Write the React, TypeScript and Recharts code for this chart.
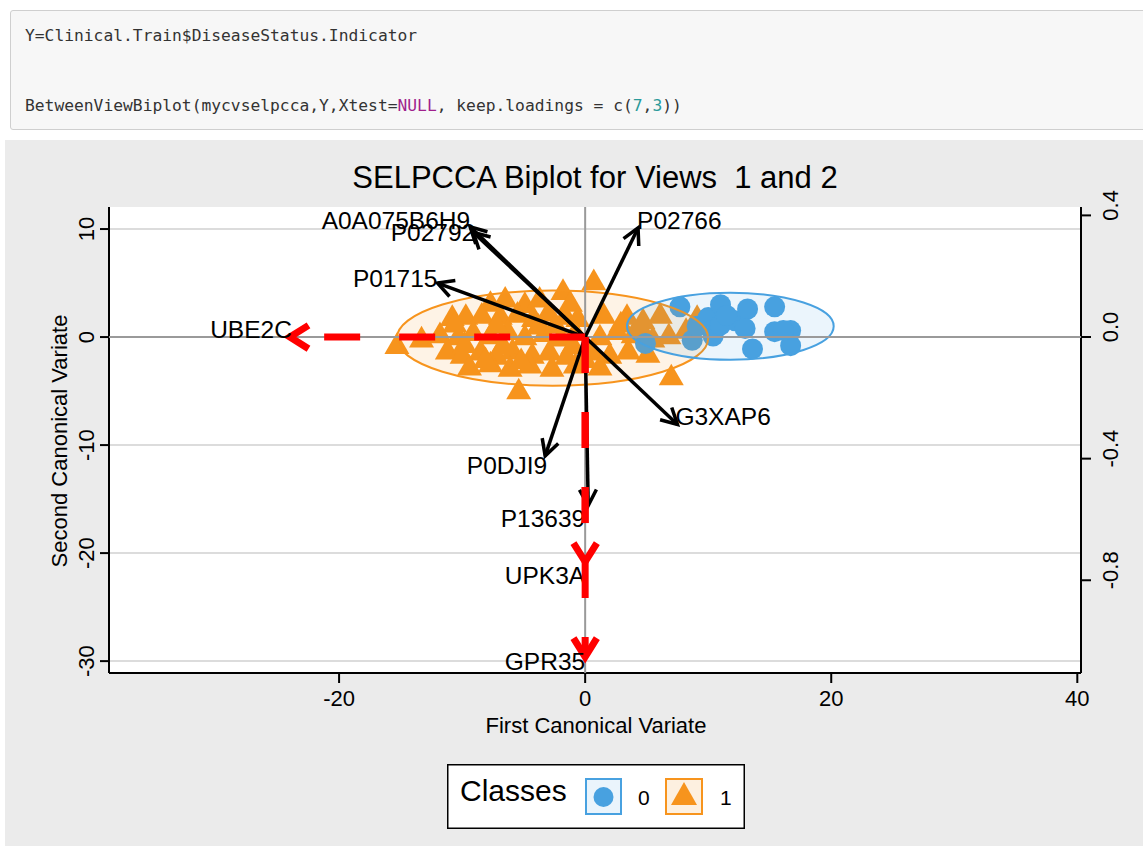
import React from 'react';
import { ScatterChart, Scatter, XAxis, YAxis, CartesianGrid, ReferenceLine, ReferenceArea } from 'recharts';

const font = '"Liberation Sans", Arial, Helvetica, sans-serif';
const mono = '"DejaVu Sans Mono", "Liberation Mono", monospace';

const ORANGE = '#f7941d';
const BLUE = '#48a1e0';

// axis ticks
const xTicks = [-20, 0, 20, 40];
const yTicks = [-30, -20, -10, 0, 10];
const loadingTicks = [-0.8, -0.4, 0, 0.4];

// class 0 (circles)
const class0Points = [
  { x: 4.9, y: -0.6 }, { x: 7.7, y: 2.8 }, { x: 8.7, y: -0.3 }, { x: 9.1, y: 1.0 },
  { x: 10.0, y: 1.8 }, { x: 10.4, y: 0.1 }, { x: 11.0, y: 3.0 }, { x: 11.0, y: 1.1 },
  { x: 12.2, y: 1.5 }, { x: 11.5, y: 2.0 }, { x: 13.2, y: 2.6 }, { x: 13.0, y: 0.8 },
  { x: 13.6, y: -1.1 }, { x: 15.4, y: 2.8 }, { x: 15.4, y: 0.5 }, { x: 16.7, y: 0.6 },
  { x: 16.7, y: -0.8 }, { x: 16.1, y: 0.6 },
];

// class 1 (triangles)
const class1Points = [
  { x: 0.7, y: 5.0 }, { x: -1.8, y: 4.1 }, { x: -4.9, y: 2.9 }, { x: -3.7, y: 3.4 },
  { x: -6.5, y: 3.4 }, { x: -7.7, y: 3.0 }, { x: -1.2, y: 3.0 },
  { x: -10.8, y: 1.7 }, { x: -9.7, y: 1.8 }, { x: -8.4, y: 1.9 }, { x: -6.9, y: 1.8 },
  { x: -5.5, y: 2.0 }, { x: -4.2, y: 1.6 }, { x: -3.0, y: 2.1 }, { x: -1.6, y: 1.8 },
  { x: -0.6, y: 1.6 }, { x: 1.5, y: 1.9 }, { x: 3.4, y: 1.8 }, { x: 4.7, y: 1.4 }, { x: 6.1, y: 1.9 },
  { x: -15.3, y: -0.9 }, { x: -13.3, y: -0.3 }, { x: -11.8, y: 0.1 }, { x: -10.3, y: -0.1 },
  { x: -9.1, y: 0.3 }, { x: -7.7, y: 0.0 }, { x: -6.3, y: 0.4 }, { x: -4.9, y: -0.1 },
  { x: -3.3, y: 0.2 }, { x: -2.0, y: -0.2 }, { x: -0.8, y: 0.3 }, { x: 1.2, y: -0.1 },
  { x: 2.6, y: 0.4 }, { x: 3.9, y: 0.1 }, { x: 5.5, y: -0.3 }, { x: 6.8, y: 0.0 },
  { x: 8.2, y: 0.5 }, { x: 9.1, y: 1.7 },
  { x: -11.2, y: -1.4 }, { x: -10.0, y: -1.8 }, { x: -8.5, y: -1.5 }, { x: -7.2, y: -1.9 },
  { x: -5.9, y: -1.4 }, { x: -4.3, y: -1.8 }, { x: -2.9, y: -1.5 }, { x: -1.5, y: -1.9 },
  { x: 0.6, y: -1.5 }, { x: 2.0, y: -1.8 }, { x: 3.5, y: -1.4 }, { x: 5.1, y: -1.7 },
  { x: -9.4, y: -2.9 }, { x: -7.7, y: -2.6 }, { x: -6.1, y: -3.0 }, { x: -4.5, y: -2.7 },
  { x: -2.7, y: -3.0 }, { x: -0.8, y: -2.7 }, { x: 1.2, y: -2.9 },
  { x: -5.4, y: -5.1 }, { x: 7.0, y: -3.8 },
  { x: -10.6, y: 1.1 }, { x: 2.9, y: 1.1 },
  { x: -7.2, y: 1.0 }, { x: -3.8, y: 0.9 }, { x: -1.0, y: -0.9 }, { x: -6.7, y: -0.9 },
  { x: -9.8, y: -0.8 }, { x: 4.6, y: 0.6 }, { x: -5.2, y: -2.3 }, { x: -8.1, y: -2.2 },
  { x: 0.0, y: -2.2 }, { x: -2.4, y: 1.0 },
];

// confidence ellipses (bounding boxes)
const ellipse0 = { x1: 3.4, x2: 20.2, y1: -2.1, y2: 4.1 };
const ellipse1 = { x1: -15.3, x2: 10.0, y1: -4.5, y2: 4.3 };

// loadings, view 1 (black) and view 2 (red)
const view1Loadings = [
  { name: 'A0A075B6H9', x: -9.35, y: 10.2 },
  { name: 'P02792', x: -9.1, y: 9.7 },
  { name: 'P02766', x: 4.3, y: 10.1 },
  { name: 'P01715', x: -12.0, y: 5.0 },
  { name: 'G3XAP6', x: 7.5, y: -8.1 },
  { name: 'P0DJI9', x: -3.25, y: -11.0 },
  { name: 'P13639', x: 0.25, y: -15.6 },
];
const view2Loadings = [
  { name: 'UBE2C', x: -24.0, y: 0 },
  { name: 'UPK3A', x: 0, y: -20.8 },
  { name: 'GPR35', x: 0, y: -29.6 },
];

const labelNudge: Record<string, { dx: number; dy: number; anchor: 'start' | 'end' }> = {
  A0A075B6H9: { dx: 0, dy: -6, anchor: 'end' },
  P02792: { dx: 2, dy: 0, anchor: 'end' },
  P02766: { dx: -1, dy: -8, anchor: 'start' },
  P01715: { dx: 0, dy: -5, anchor: 'end' },
  G3XAP6: { dx: -2, dy: -8, anchor: 'start' },
  P0DJI9: { dx: 2, dy: 10, anchor: 'end' },
  P13639: { dx: -3, dy: 13, anchor: 'end' },
  UBE2C: { dx: 2, dy: -8, anchor: 'end' },
  UPK3A: { dx: 0, dy: 14, anchor: 'end' },
  GPR35: { dx: 0, dy: 5, anchor: 'end' },
};

const Triangle = (p: any) => {
  const s = 25;
  const h = (s * Math.sqrt(3)) / 2;
  const { cx, cy } = p;
  return (
    <polygon
      points={`${cx},${cy - (2 * h) / 3} ${cx - s / 2},${cy + h / 3} ${cx + s / 2},${cy + h / 3}`}
      fill={ORANGE}
    />
  );
};

const Dot = (p: any) => <circle cx={p.cx} cy={p.cy} r={10.5} fill={BLUE} />;

const ellipseShape = (color: string) => (p: any) => {
  const { x, y, width, height } = p;
  return (
    <ellipse
      cx={x + width / 2}
      cy={y + height / 2}
      rx={Math.abs(width) / 2}
      ry={Math.abs(height) / 2}
      fill={color}
      fillOpacity={0.11}
      stroke={color}
      strokeWidth={2}
    />
  );
};

const arrowShape = (name: string, red: boolean) => (p: any) => {
  const { x1, y1, x2, y2 } = p;
  const a = Math.atan2(y2 - y1, x2 - x1);
  const len = red ? 22 : 18;
  const spread = red ? 0.56 : 0.49;
  const color = red ? '#ff0000' : '#000';
  const w = red ? 7 : 3.5;
  const hx1 = x2 - len * Math.cos(a - spread);
  const hy1 = y2 - len * Math.sin(a - spread);
  const hx2 = x2 - len * Math.cos(a + spread);
  const hy2 = y2 - len * Math.sin(a + spread);
  const n = labelNudge[name];
  return (
    <g>
      <line x1={x1} y1={y1} x2={x2} y2={y2} stroke={color} strokeWidth={w} strokeDasharray={red ? '36 39' : undefined} />
      <polyline points={`${hx1},${hy1} ${x2},${y2} ${hx2},${hy2}`} fill="none" stroke={color} strokeWidth={w} strokeLinejoin="miter" />
      <text x={x2 + n.dx} y={y2 + n.dy} dy="0.35em" textAnchor={n.anchor} fontSize={24.5} fontFamily={font} fill="#000">
        {name}
      </text>
    </g>
  );
};

const BottomTick = ({ x, y, payload }: any) => (
  <text x={x} y={y + 21} textAnchor="middle" fontSize={22} fontFamily={font} fill="#000">
    {payload.value}
  </text>
);

const LeftTick = ({ x, y, payload }: any) => {
  const cx = x - 12;
  return (
    <text x={cx} y={y} dy="0.35em" transform={`rotate(-90 ${cx} ${y})`} textAnchor="middle" fontSize={22} fontFamily={font} fill="#000">
      {payload.value}
    </text>
  );
};

const RightTick = ({ x, y, payload }: any) => {
  const cx = x + 17;
  const cy = y - 10;
  return (
    <text x={cx} y={cy} dy="0.35em" transform={`rotate(-90 ${cx} ${cy})`} textAnchor="middle" fontSize={22} fontFamily={font} fill="#000">
      {Number(payload.value).toFixed(1)}
    </text>
  );
};

function CodeCell() {
  const line: React.CSSProperties = { position: 'absolute', left: 14, fontFamily: mono, fontSize: 16.3, color: '#333', whiteSpace: 'pre', lineHeight: '20px' };
  return (
    <div style={{ position: 'absolute', left: 10, top: 10, width: 1150, height: 120, background: '#f7f7f7', border: '1px solid #cfcfcf', borderRadius: 3, boxSizing: 'border-box' }}>
      <div style={{ ...line, top: 15 }}>Y=Clinical.Train$DiseaseStatus.Indicator</div>
      <div style={{ ...line, top: 85 }}>
        BetweenViewBiplot(mycvselpcca,Y,Xtest=<span style={{ color: '#a01f8c' }}>NULL</span>, keep.loadings = c(<span style={{ color: '#2a9a9a' }}>7</span>,<span style={{ color: '#2a9a9a' }}>3</span>))
      </div>
    </div>
  );
}

function ClassLegend() {
  return (
    <svg style={{ position: 'absolute', left: 447, top: 764 }} width={298} height={65}>
      <rect x={0.75} y={0.75} width={296.5} height={63.5} fill="#fff" stroke="#000" strokeWidth={1.5} />
      <text x={13} y={37} fontSize={30} fontFamily={font} fill="#000">Classes</text>
      <rect x={139} y={15} width={35} height={35} fill="#eaf4fc" stroke={BLUE} strokeWidth={2} />
      <circle cx={156.5} cy={33} r={10} fill={BLUE} />
      <text x={191} y={41} fontSize={21} fontFamily={font} fill="#000">0</text>
      <rect x={219} y={15} width={36} height={35} fill="#fdf0e0" stroke={ORANGE} strokeWidth={2} />
      <polygon points="237,18 224,41 250,41" fill={ORANGE} />
      <text x={273} y={41} fontSize={21} fontFamily={font} fill="#000">1</text>
    </svg>
  );
}

export default function App() {
  return (
    <div style={{ position: 'absolute', left: 0, top: 0, width: 1143, height: 846, overflow: 'hidden', background: '#fff', fontFamily: font }}>
      <CodeCell />
      <div style={{ position: 'absolute', left: 5, top: 140, width: 1138, height: 706, background: '#ebebeb' }} />
      <div style={{ position: 'absolute', left: 0, top: 140 }}>
        <ScatterChart width={1143} height={706} margin={{ top: 67, right: 2, bottom: 113, left: 49 }}>
          <CartesianGrid yAxisId="left" vertical={false} horizontalValues={yTicks} stroke="#dcdcdc" strokeWidth={2} fill="#fff" />
          <XAxis
            type="number"
            dataKey="x"
            domain={[-38.7, 40.3]}
            allowDataOverflow
            ticks={xTicks}
            interval={0}
            height={60}
            tickSize={10}
            axisLine={{ stroke: '#000', strokeWidth: 2 }}
            tickLine={{ stroke: '#000', strokeWidth: 2 }}
            tick={<BottomTick />}
          />
          <YAxis
            yAxisId="left"
            type="number"
            dataKey="y"
            domain={[-31.1, 12.04]}
            allowDataOverflow
            ticks={yTicks}
            interval={0}
            width={60}
            tickSize={9}
            axisLine={{ stroke: '#000', strokeWidth: 2 }}
            tickLine={{ stroke: '#000', strokeWidth: 2 }}
            tick={<LeftTick />}
          />
          <YAxis
            yAxisId="right"
            orientation="right"
            type="number"
            domain={[-1.105, 0.4276]}
            allowDataOverflow
            ticks={loadingTicks}
            interval={0}
            width={60}
            tickSize={10}
            axisLine={{ stroke: '#000', strokeWidth: 2 }}
            tickLine={{ stroke: '#000', strokeWidth: 2 }}
            tick={<RightTick />}
          />
          <Scatter yAxisId="left" data={class1Points} shape={Triangle} isAnimationActive={false} zIndex={600} />
          <Scatter yAxisId="left" data={class0Points} shape={Dot} isAnimationActive={false} zIndex={610} />
          <ReferenceArea yAxisId="left" zIndex={650} x1={ellipse1.x1} x2={ellipse1.x2} y1={ellipse1.y1} y2={ellipse1.y2} shape={ellipseShape(ORANGE)} />
          <ReferenceArea yAxisId="left" zIndex={651} x1={ellipse0.x1} x2={ellipse0.x2} y1={ellipse0.y1} y2={ellipse0.y2} shape={ellipseShape(BLUE)} />
          <ReferenceLine yAxisId="left" zIndex={660} y={0} stroke="#9a9a9a" strokeWidth={2} />
          <ReferenceLine yAxisId="left" zIndex={660} x={0} stroke="#9a9a9a" strokeWidth={2} />
          {view1Loadings.map((l) => (
            <ReferenceLine
              key={l.name}
              yAxisId="left"
              zIndex={700}
              segment={[{ x: 0, y: 0 }, { x: l.x, y: l.y }]}
              shape={arrowShape(l.name, false)}
            />
          ))}
          {view2Loadings.map((l) => (
            <ReferenceLine
              key={l.name}
              yAxisId="left"
              zIndex={710}
              segment={[{ x: 0, y: 0 }, { x: l.x, y: l.y }]}
              shape={arrowShape(l.name, true)}
            />
          ))}
        </ScatterChart>
      </div>
      <div style={{ position: 'absolute', left: 295, top: 161, width: 600, textAlign: 'center', fontSize: 31, lineHeight: '34px', color: '#000', whiteSpace: 'nowrap' }}>
        SELPCCA Biplot for Views&nbsp; 1 and 2
      </div>
      <div style={{ position: 'absolute', left: 396, top: 714, width: 400, textAlign: 'center', fontSize: 22, lineHeight: '24px', color: '#000' }}>
        First Canonical Variate
      </div>
      <div style={{ position: 'absolute', left: 60, top: 441, transform: 'translate(-50%, -50%) rotate(-90deg)', fontSize: 22, lineHeight: '22px', color: '#000', whiteSpace: 'nowrap' }}>
        Second Canonical Variate
      </div>
      <ClassLegend />
    </div>
  );
}
